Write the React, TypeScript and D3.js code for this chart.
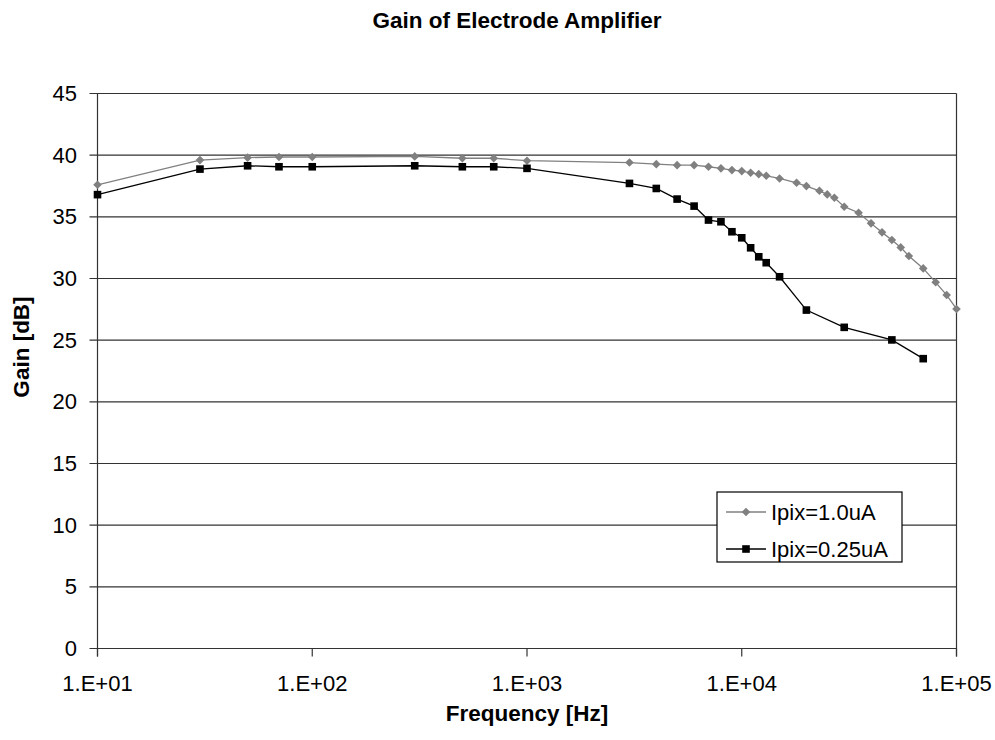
import React from "react";
import * as d3 from "d3";

const freqA = [10, 30, 50, 70, 100, 300, 500, 700, 1000, 3000, 4000, 5000, 6000, 7000, 8000, 9000, 10000, 11000, 12000, 13000, 15000, 18000, 20000, 23000, 25000, 27000, 30000, 35000, 40000, 45000, 50000, 55000, 60000, 70000, 80000, 90000, 100000];
const gainA = [37.6, 39.6, 39.8, 39.85, 39.85, 39.9, 39.75, 39.75, 39.55, 39.4, 39.27, 39.19, 39.19, 39.06, 38.93, 38.79, 38.71, 38.57, 38.46, 38.33, 38.11, 37.76, 37.49, 37.11, 36.82, 36.55, 35.82, 35.33, 34.47, 33.74, 33.12, 32.52, 31.82, 30.82, 29.69, 28.66, 27.53];

const freqB = [10, 30, 50, 70, 100, 300, 500, 700, 1000, 3000, 4000, 5000, 6000, 7000, 8000, 9000, 10000, 11000, 12000, 13000, 15000, 20000, 30000, 50000, 70000];
const gainB = [36.8, 38.87, 39.14, 39.06, 39.06, 39.14, 39.06, 39.06, 38.93, 37.71, 37.3, 36.44, 35.87, 34.74, 34.6, 33.79, 33.3, 32.49, 31.76, 31.28, 30.14, 27.44, 26.04, 25.02, 23.5];

const xTicks = [10, 100, 1000, 10000, 100000];
const xTickLabels = ["1.E+01", "1.E+02", "1.E+03", "1.E+04", "1.E+05"];
const yTicks = [0, 5, 10, 15, 20, 25, 30, 35, 40, 45];

const seriesNames = ["Ipix=1.0uA", "Ipix=0.25uA"];

const W = 995, H = 740;
const L = 97.5, R = 956.5, T = 93.5, B = 648.5;
const FONT = "'Liberation Sans', Arial, sans-serif";
const GRAY = "#808080";

export default function App() {
  const x = d3.scaleLog().domain([10, 100000]).range([L, R]);
  const y = d3.scaleLinear().domain([0, 45]).range([B, T]);
  const line = d3.line<[number, number]>().x(d => x(d[0])).y(d => y(d[1]));
  const dataA: [number, number][] = freqA.map((f, i) => [f, gainA[i]]);
  const dataB: [number, number][] = freqB.map((f, i) => [f, gainB[i]]);
  const gridColor = "#333";
  const diamond = (cx: number, cy: number, s = 4.3) =>
    `M${cx},${cy - s}L${cx + s},${cy}L${cx},${cy + s}L${cx - s},${cy}Z`;

  return (
    <svg width={W} height={H} style={{ position: "absolute", left: 0, top: 0, background: "#fff" }} fontFamily={FONT}>
      <rect x={0} y={0} width={W} height={H} fill="#fff" />
      <text x={517} y={28} textAnchor="middle" fontSize={22.5} fontWeight="bold">Gain of Electrode Amplifier</text>
      {/* gridlines */}
      {yTicks.map(t => (
        <line key={"g" + t} x1={L - 8} x2={R} y1={y(t)} y2={y(t)} stroke={gridColor} strokeWidth={1.2} />
      ))}
      {/* axes */}
      <line x1={L} x2={L} y1={T} y2={B + 8} stroke={gridColor} strokeWidth={1.2} />
      <line x1={R} x2={R} y1={T} y2={B + 8} stroke={gridColor} strokeWidth={1.2} />
      {xTicks.map(t => (
        <line key={"xt" + t} x1={x(t)} x2={x(t)} y1={B} y2={B + 8} stroke={gridColor} strokeWidth={1.2} />
      ))}
      {yTicks.map(t => (
        <text key={"yl" + t} x={77} y={y(t)} textAnchor="end" dominantBaseline="central" fontSize={22}>{t}</text>
      ))}
      {xTicks.map((t, i) => (
        <text key={"xl" + t} x={x(t)} y={691} textAnchor="middle" fontSize={22}>{xTickLabels[i]}</text>
      ))}
      <text x={527} y={721} textAnchor="middle" fontSize={22.5} fontWeight="bold">Frequency [Hz]</text>
      <text transform="translate(29,347) rotate(-90)" textAnchor="middle" fontSize={22.5} fontWeight="bold">Gain [dB]</text>
      {/* series A */}
      <path d={line(dataA) || ""} fill="none" stroke={GRAY} strokeWidth={1.3} />
      {dataA.map((d, i) => (
        <path key={"a" + i} d={diamond(x(d[0]), y(d[1]))} fill={GRAY} />
      ))}
      {/* series B */}
      <path d={line(dataB) || ""} fill="none" stroke="#000" strokeWidth={1.3} />
      {dataB.map((d, i) => (
        <rect key={"b" + i} x={x(d[0]) - 3.8} y={y(d[1]) - 3.8} width={7.6} height={7.6} fill="#000" />
      ))}
      {/* legend */}
      <rect x={717} y={492} width={185} height={70} fill="#fff" stroke="#000" strokeWidth={1.2} />
      <line x1={726} x2={766} y1={512} y2={512} stroke={GRAY} strokeWidth={1.3} />
      <path d={diamond(746, 512)} fill={GRAY} />
      <text x={771} y={512} dominantBaseline="central" fontSize={22}>{seriesNames[0]}</text>
      <line x1={726} x2={766} y1={549} y2={549} stroke="#000" strokeWidth={1.3} />
      <rect x={746 - 3.8} y={549 - 3.8} width={7.6} height={7.6} fill="#000" />
      <text x={771} y={549} dominantBaseline="central" fontSize={22}>{seriesNames[1]}</text>
    </svg>
  );
}
